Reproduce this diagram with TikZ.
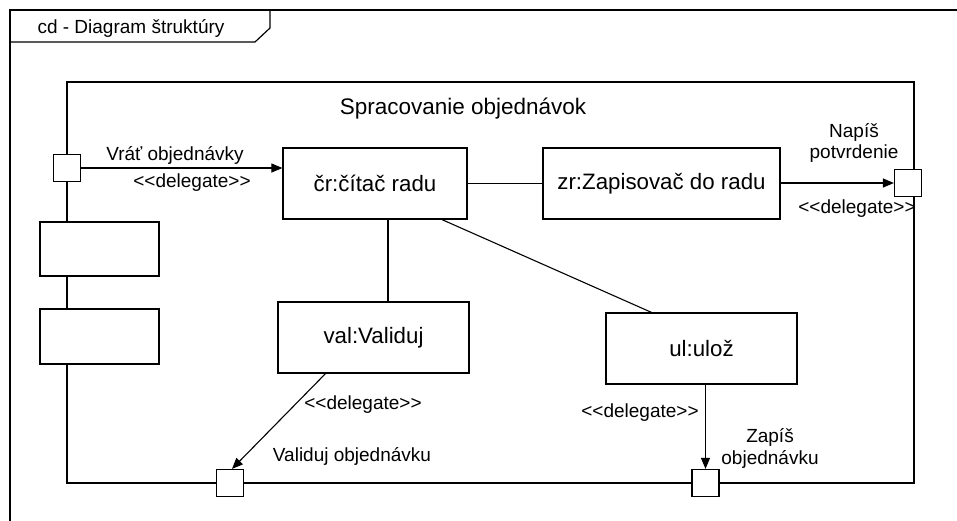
\documentclass[tikz,border=0pt]{standalone}
\usepackage{fontspec}
\setmainfont{Liberation Sans}
\usetikzlibrary{arrows.meta,calc}
\newcommand{\dlg}{<\kern0pt<delegate>\kern0pt>}
\begin{document}
\begin{tikzpicture}[x=1pt,y=-1pt,
  line width=1.2pt,
  part/.style={draw,fill=white,rectangle,minimum width=#1,minimum height=71pt,inner sep=0pt,
    font=\fontsize{22.3}{26}\selectfont},
  part/.default=184pt,
  port/.style={draw,fill=white,rectangle,minimum size=27pt,inner sep=0pt},
  slot/.style={draw,fill=white,rectangle,minimum width=119pt,minimum height=54pt,inner sep=0pt},
  lbl/.style={inner sep=0pt,font=\fontsize{19}{22}\selectfont,align=center},
  flow/.style={-{Triangle[length=11pt,width=9pt]}},
  link/.style={line width=1.1pt}]
\useasboundingbox (0,0) rectangle (957,520);
\clip (0,0) rectangle (957,520);

% diagram frame with its name tab
\draw (10,540) -- (10,10) -- (970,10);
\draw (10,42) -- (255,42) -- (270,28) -- (270,10);
\node[lbl] (frametitle) at (131,28) {cd - Diagram štruktúry};

% structured classifier
\node[draw,rectangle,minimum width=847pt,minimum height=401pt,inner sep=0pt] (sc) at (490.5,282.5) {};
\node[inner sep=0pt,font=\fontsize{22.5}{26}\selectfont] (sctitle) at (463,109) {Spracovanie objednávok};

% unnamed parts on the left edge
\node[slot] (s1) at (99.5,249) {};
\node[slot,minimum height=55pt] (s2) at (99.5,336.5) {};

% ports
\node[port] (lp) at (67,168) {};
\node[port] (rp) at (908,183) {};
\node[port] (vp) at (230,483) {};
\node[port] (up) at (705.5,483) {};

% parts
\node[part] (cr) at (375,183.5) {čr:čítač radu};
\node[part=237pt] (zr) at (661.5,183.5) {zr:Zapisovač do radu};
\node[part=191pt] (val) at (373.5,337.5) {val:Validuj};
\node[part=191pt] (ul) at (701.5,348.5) {ul:ulož};

% connectors between parts
\draw[link] (cr) -- (zr);
\draw[link] ([xshift=13pt]cr.south) -- ([xshift=13pt]cr.south |- val.north);
\draw[link] ([xshift=67pt]cr.south) -- ([xshift=-50pt]ul.north);

% delegation connectors
\draw[link,flow] (lp.east) -- (lp.east -| cr.west);
\draw[link,flow] (zr.east |- rp.west) -- (rp.west);
\draw[link,flow] ([xshift=-48pt]val.south) -- ([xshift=2pt]vp.north);
\draw[link,flow] (ul.south -| up.north) -- (up.north);

% connector labels
\node[lbl] (l1) at (175,155) {Vráť objednávky};
\node[lbl] (l1d) at (192,183) {\dlg};
\node[lbl] (l2) at (854,142.5) {Napíš\\[-1pt]potvrdenie};
\node[lbl] (l2d) at (857,209) {\dlg};
\node[lbl] (l3d) at (363,405) {\dlg};
\node[lbl] (l3) at (352,456) {Validuj objednávku};
\node[lbl] (l4d) at (640,413) {\dlg};
\node[lbl] (l4) at (770,448.5) {Zapíš\\[0pt]objednávku};
\end{tikzpicture}
\end{document}
